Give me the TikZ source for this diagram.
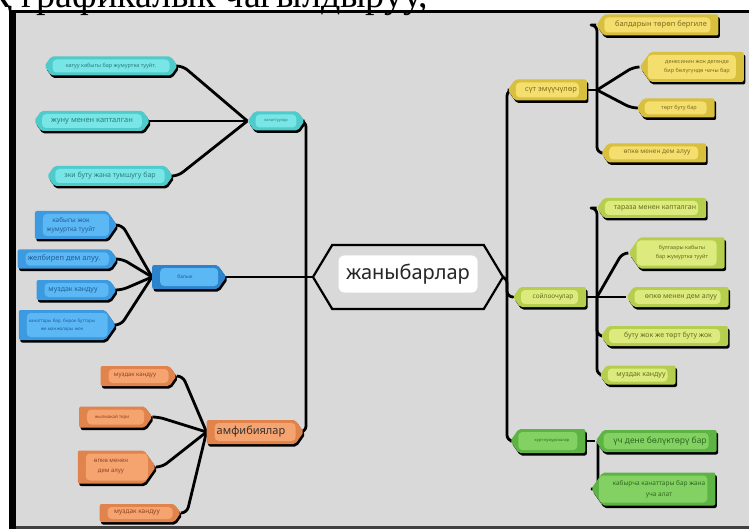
\documentclass[tikz,border=0pt]{standalone}
\usepackage{fontspec}
\setmainfont{Noto Sans}
\newfontfamily\titlefont{Liberation Serif}
\usetikzlibrary{shapes.symbols,shadows,backgrounds}

\definecolor{bgray}{HTML}{D9D9D9}
\definecolor{cyD}{HTML}{4FCBCB}\definecolor{cyL}{HTML}{78E6E6}\definecolor{cyT}{HTML}{2C7E80}
\definecolor{blD}{HTML}{3C9BE0}\definecolor{blL}{HTML}{5CB8F4}\definecolor{blT}{HTML}{1F5F9A}
\definecolor{blH}{HTML}{2E84CC}
\definecolor{orD}{HTML}{E0834C}\definecolor{orL}{HTML}{F5A36F}\definecolor{orT}{HTML}{8F4420}
\definecolor{yeD}{HTML}{D8BF3E}\definecolor{yeL}{HTML}{F4DF6E}\definecolor{yeT}{HTML}{7F6C1E}
\definecolor{liD}{HTML}{B5CE4E}\definecolor{liL}{HTML}{DDEB7E}\definecolor{liT}{HTML}{62701E}
\definecolor{grD}{HTML}{5DB444}\definecolor{grL}{HTML}{84D163}\definecolor{grT}{HTML}{2E6A1F}

\tikzset{
  leaf/.style n args={3}{shape=signal, fill=#1, text=#3, align=center,
    inner xsep=10pt, inner ysep=4pt, rounded corners=2pt, signal pointer angle=110,
    drop shadow={shadow xshift=1.5pt, shadow yshift=-2.5pt, fill=black, opacity=1},
    path picture={\fill[#2, rounded corners=4pt]
      ([xshift=8pt,yshift=3pt]path picture bounding box.south west) rectangle
      ([xshift=-8pt,yshift=-3pt]path picture bounding box.north east);}},
  bird/.style={leaf={cyD}{cyL}{cyT}, signal to=east and west},
  fish/.style={leaf={blD}{blL}{blT}, signal to=east},
  frog/.style={leaf={orD}{orL}{orT}, signal to=east},
  milk/.style={leaf={yeD}{yeL}{yeT}, signal to=west},
  crawl/.style={leaf={liD}{liL}{liT}, signal to=west},
  bug/.style={leaf={grD}{grL}{grT}, signal to=west},
  link/.style={line width=2.8pt, rounded corners=6pt, line join=round, black}
}

\begin{document}
\begin{tikzpicture}[x=1pt,y=-1pt]
\useasboundingbox (0,0) rectangle (749,529);
\node[anchor=base west, inner sep=0, font=\titlefont\fontsize{38}{40}\selectfont] (ttl) at (-14,8) {Қ графикалык чагылдыруу,};

% centre
\node[shape=signal, signal to=east and west, signal pointer angle=118, draw=black,
  line width=2.2pt, fill=bgray, minimum width=190, minimum height=64] (hx) at (408,277) {};
\node[fill=white, rounded corners=6pt, minimum width=139, minimum height=37, text=black!85,
  font=\fontsize{20}{24}\selectfont] (jb) at (408,274) {жаныбарлар};

% birds
\node[bird, minimum width=133, minimum height=19, font=\fontsize{5.5}{6.5}\selectfont] (b1) at (111,66) {катуу кабыгы бар жумуртка тууйт.};
\node[bird, minimum width=113, minimum height=20, font=\fontsize{7.5}{9}\selectfont] (b2) at (92,121) {жуну менен капталган};
\node[bird, minimum width=125, minimum height=20, font=\fontsize{7}{8}\selectfont] (b3) at (110,176) {эки буту жана тумшугу бар};
\node[bird, minimum width=52, minimum height=19, font=\fontsize{4}{5}\selectfont] (bh) at (276,121) {канаттуулар};

% fish
\node[fish, minimum width=82, minimum height=28, font=\fontsize{6.5}{9}\selectfont] (f1) at (71,225) {кабыгы жок\\жумуртка тууйт};
\node[fish, minimum width=98, minimum height=19, font=\fontsize{7.5}{9}\selectfont] (f2) at (64,259) {желбиреп дем алуу.};
\node[fish, minimum width=80, minimum height=20, font=\fontsize{7}{8}\selectfont] (f3) at (73,290) {муздак кандуу};
\node[fish, minimum width=96, minimum height=30, font=\fontsize{4.5}{8}\selectfont] (f4) at (62,325) {канаттары бар, бирок буттары\\же манжалары жок};
\node[fish, fill=blH, minimum width=74, minimum height=24, font=\fontsize{5}{6}\selectfont] (fh) at (185,277) {балык};

% amphibians
\node[frog, minimum width=76, minimum height=20, font=\fontsize{6}{7}\selectfont] (a1) at (135,376) {муздак кандуу};
\node[frog, minimum width=73, minimum height=21, font=\fontsize{4.5}{5}\selectfont] (a2) at (112,417) {жылмакай тери};
\node[frog, minimum width=78, minimum height=33, font=\fontsize{6}{10}\selectfont] (a3) at (111,467) {өпкө менен\\дем алуу};
\node[frog, minimum width=81, minimum height=18, font=\fontsize{6.5}{7}\selectfont] (a4) at (137,513) {муздак кандуу};
\node[frog, minimum width=97, minimum height=24, text=black!80, font=\fontsize{11}{12}\selectfont] (ah) at (251,432) {амфибиялар};

% mammals
\node[milk, minimum width=77, minimum height=21, font=\fontsize{7.5}{9}\selectfont] (mh) at (551,90) {сүт эмүүчүлөр};
\node[milk, minimum width=122, minimum height=21, font=\fontsize{7.5}{9}\selectfont] (m1) at (661,25) {балдарын төрөп бергиле};
\node[milk, minimum width=104, minimum height=30, font=\fontsize{5.5}{9}\selectfont] (m2) at (697,67) {денесинин жок дегенде\\бир бөлүгүндө чачы бар};
\node[milk, minimum width=78, minimum height=19, font=\fontsize{5.5}{7}\selectfont] (m3) at (679,108) {төрт буту бар};
\node[milk, minimum width=105, minimum height=19, font=\fontsize{6.5}{8}\selectfont] (m4) at (657,153) {өпкө менен дем алуу};

% reptiles
\node[crawl, minimum width=73, minimum height=20, font=\fontsize{6.5}{8}\selectfont] (rh) at (553,297) {сойлоочулар};
\node[crawl, minimum width=100, minimum height=20, font=\fontsize{7}{8}\selectfont] (r1) at (655,208) {тараза менен капталган};
\node[crawl, minimum width=96, minimum height=31, font=\fontsize{5.5}{9}\selectfont] (r2) at (682,253) {булгаары кабыгы\\бар жумуртка тууйт};
\node[crawl, minimum width=102, minimum height=20, font=\fontsize{7}{8}\selectfont] (r3) at (681,297) {өпкө менен дем алуу};
\node[crawl, minimum width=127, minimum height=20, font=\fontsize{7}{8}\selectfont] (r4) at (668,336) {буту жок же төрт буту жок};
\node[crawl, minimum width=73, minimum height=19, font=\fontsize{7}{8}\selectfont] (r5) at (641,375) {муздак кандуу};

% insects
\node[bug, minimum width=75, minimum height=24, font=\fontsize{4}{5}\selectfont] (ih) at (552,441) {курт-кумурскалар};
\node[bug, minimum width=115, minimum height=22, font=\fontsize{8.5}{10}\selectfont] (i1) at (660,441) {үч дене бөлүктөрү бар};
\node[bug, minimum width=118, minimum height=33, font=\fontsize{6.5}{11}\selectfont] (i2) at (659,489) {кабырча канаттары бар жана\\уча алат};

\coordinate (lt) at (306,277);
\coordinate (rt) at (507,277);
\coordinate (mj) at (597,90);
\coordinate (rj) at (597,297);
\coordinate (ij) at (598,441);

\begin{scope}[on background layer]
\fill[bgray] (16,13) rectangle (749,526);
\fill[black] (9,10) rectangle (16,529);
\draw[black, line width=2.5pt] (9,11.5) -- (749,11.5);
\draw[black!75, line width=2.5pt] (16,527.5) -- (749,527.5);
% left side
\foreach \n in {b1,b2,b3} \draw[link] (\n.east) -- ++(5,0) -- (bh.west);
\foreach \n in {f1,f2,f3,f4} \draw[link] (\n.east) -- ++(5,0) -- (fh.west);
\foreach \n in {a1,a2,a3,a4} \draw[link] (\n.east) -- ++(6,0) -- (ah.west);
\draw[link] (bh.east) -| (lt) |- (ah.east);
\draw[link] (fh.east) -- (hx.west);
% right side
\draw[link] (mh.west) -| (rt) |- (ih.west);
\draw[link] (hx.east) -- (rt) |- (rh.west);
\draw[link] (mh.east) -- (mj);
\draw[link] (mj) |- (m1.west);
\draw[link] (mj) |- (m4.west);
\draw[link] (mj) -- ([xshift=-6pt]m2.west) -- (m2.west);
\draw[link] (mj) -- ([xshift=-5pt]m3.west) -- (m3.west);
\draw[link] (rh.east) -- (r3.west);
\draw[link] (rj) |- (r1.west);
\draw[link] (rj) |- (r4.west);
\draw[link] (rj) |- (r5.west);
\draw[link] (rj) -- ([xshift=-6pt]r2.west) -- (r2.west);
\draw[link] (ih.east) -- (i1.west);
\draw[link] (ij) |- (i2.west);
\end{scope}
\end{tikzpicture}
\end{document}
